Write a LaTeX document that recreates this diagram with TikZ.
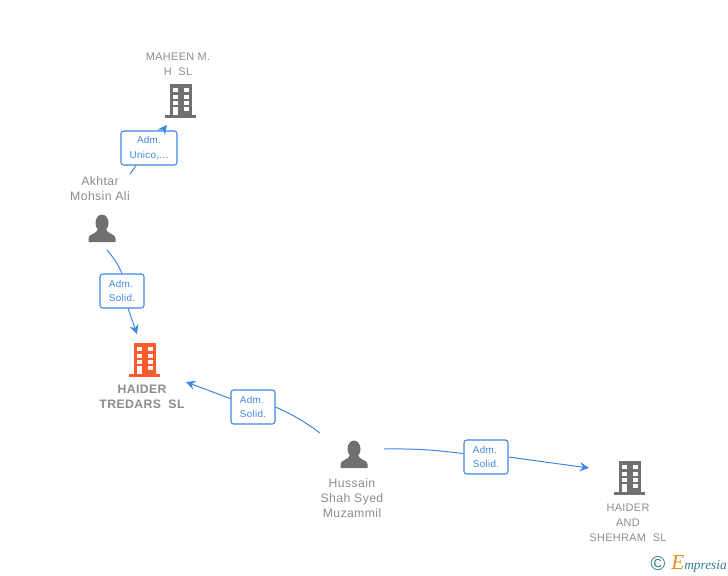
\documentclass[tikz,border=0pt]{standalone}
\usepackage{fontspec}
\setmainfont[LetterSpace=3]{Liberation Sans}
\newfontfamily\logofont{Liberation Serif}
\usetikzlibrary{arrows.meta}
\definecolor{iconGray}{HTML}{707070}
\definecolor{textGray}{HTML}{8C8C8C}
\definecolor{linkBlue}{HTML}{3F86E4}
\definecolor{iconOrange}{HTML}{FF5A2B}
\definecolor{logoTeal}{HTML}{2F7F8F}
\definecolor{logoOrange}{HTML}{EE8A1E}
\tikzset{
    entity/.style={text=textGray,align=center,inner sep=0,font=\fontsize{8.2}{11.25}\selectfont},
    personName/.style={entity,font=\fontsize{9.2}{11.25}\selectfont},
    adm/.style={draw=linkBlue,line width=0.8pt,rounded corners=2pt,fill=white,text=linkBlue,align=left,
        inner sep=0,minimum width=33pt,minimum height=25.5pt,font=\fontsize{7.4}{10.9}\selectfont},
    link/.style={draw=linkBlue,line width=0.75pt},
    arrowEnd/.style={-{Stealth[length=7pt,width=7pt,inset=2.5pt]}},
    building/.pic={
        \fill[pic actions] (-11,-17) rectangle (11,14);
        \fill[pic actions] (-16,14) rectangle (15,16.5);
        \foreach \yy in {-13,-6.5,0}{
            \fill[white] (-8,\yy) rectangle (-3,\yy+4);
            \fill[white] (2.5,\yy) rectangle (7.5,\yy+4);
        }
        \fill[white] (-8,6) rectangle (-3,14);
        \fill[white] (2.5,6) rectangle (7.5,10);
    },
    person/.pic={
        \fill[iconGray] (0,-6) ellipse (6.5 and 8.5);
        \fill[iconGray] (-13.5,13) -- (-13.5,9) .. controls (-13.5,5) and (-5,5) .. (-4,0) -- (4,0)
            .. controls (5,5) and (13.5,5) .. (13.5,9) -- (13.5,13) -- cycle;
    }
}
\begin{document}
\begin{tikzpicture}[x=0.75pt,y=-0.75pt]
    \useasboundingbox (0,0) rectangle (728,575);
    % icons
    \pic[fill=iconGray] at (181,101) {building};
    \pic[fill=iconOrange] at (145,360) {building};
    \pic[fill=iconGray] at (630,478) {building};
    \pic at (102,229) {person};
    \pic at (354,455) {person};
    % names
    \node[entity] (maheen) at (178,64) {MAHEEN M.\\H\ \ SL};
    \node[personName] (akhtar) at (100,189) {Akhtar\\Mohsin Ali};
    \node[entity,font=\fontsize{9.2}{11.25}\selectfont\bfseries] (tredars) at (142,397) {HAIDER\\TREDARS\ \ SL};
    \node[personName] (hussain) at (352,498) {Hussain\\Shah Syed\\Muzammil};
    \node[entity] (shehram) at (628,523) {HAIDER\\AND\\SHEHRAM\ \ SL};
    % role boxes
    \node[adm,align=center,minimum width=42pt] (admUnico) at (149,148) {Adm.\\Unico,...};
    \node[adm] (admAkhtar) at (122,291) {Adm.\\Solid.};
    \node[adm] (admTredars) at (253,407) {Adm.\\Solid.};
    \node[adm] (admShehram) at (486,457) {Adm.\\Solid.};
    % free ends
    \coordinate (akhtarUp) at (130,174);
    \coordinate (maheenIn) at (167,125);
    \coordinate (akhtarDown) at (107,250);
    \coordinate (tredarsTop) at (137,334);
    \coordinate (hussainLeft) at (320,433);
    \coordinate (tredarsRight) at (186,382);
    \coordinate (hussainRight) at (384,449);
    \coordinate (shehramIn) at (589,468);
    % connectors
    \draw[link] (akhtarUp) -- (admUnico);
    \draw[link,arrowEnd] (admUnico) -- (maheenIn);
    \draw[link] (akhtarDown) to[bend left=8] (admAkhtar.north);
    \draw[link,arrowEnd] (admAkhtar) -- (tredarsTop);
    \draw[link] (hussainLeft) to[bend right=6] (admTredars.east);
    \draw[link,arrowEnd] (admTredars) -- (tredarsRight);
    \draw[link] (hussainRight) to[bend left=4] (admShehram);
    \draw[link,arrowEnd] (admShehram.east) -- (shehramIn);
    % logo
    \node[inner sep=0,text=logoTeal,font=\fontsize{15}{15}\selectfont] (copyr) at (658,564) {©};
    \node[inner sep=0,anchor=west,text=logoTeal,font=\logofont\fontsize{10}{10}\selectfont\itshape] (logo) at (671,564)
        {{\color{logoOrange}\fontsize{16}{16}\selectfont E}mpresia};
\end{tikzpicture}
\end{document}
